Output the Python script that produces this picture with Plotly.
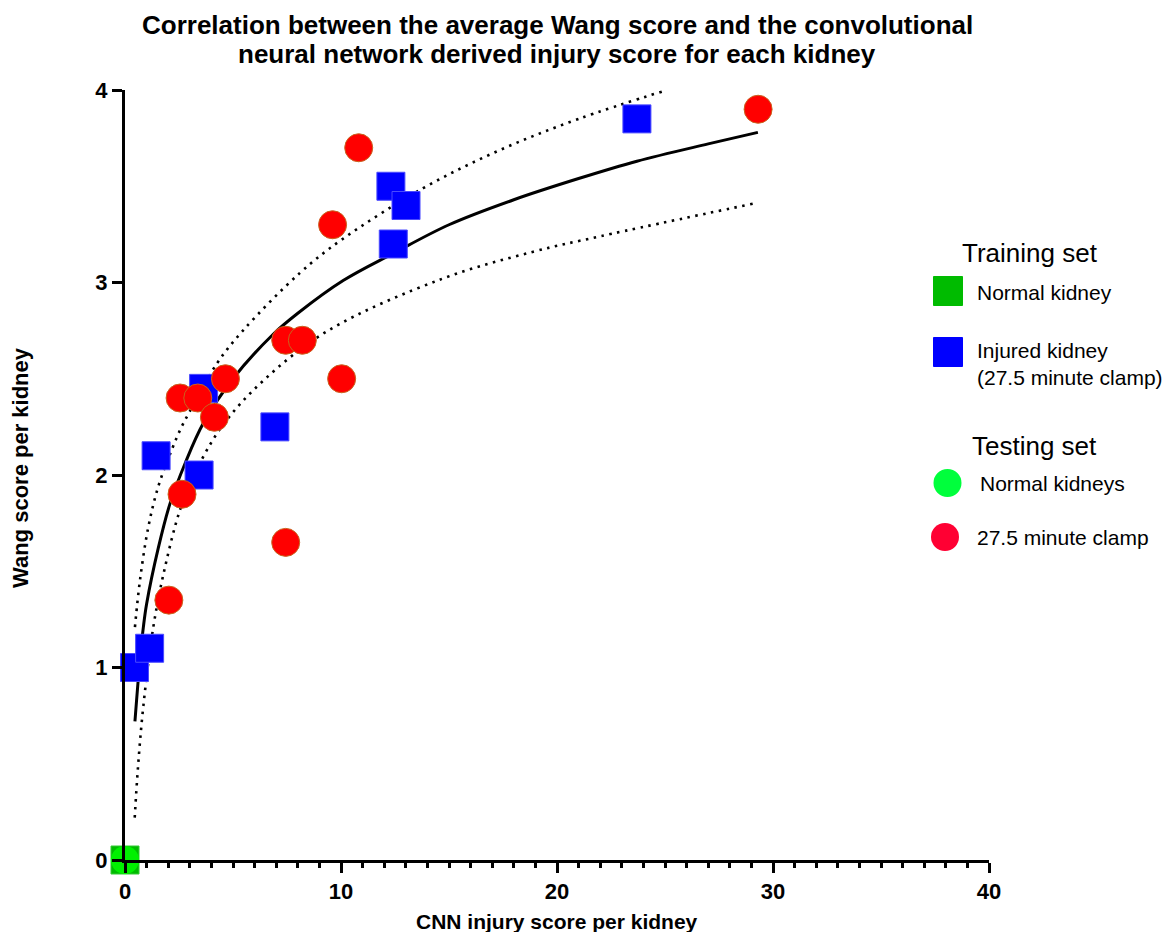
import plotly.graph_objects as go

# ---------------- data ----------------
train_normal_x = [0.0]
train_normal_y = [0.0]

train_injured_x = [0.44, 1.14, 1.44, 3.43, 3.64, 6.94, 12.31, 13.01, 12.42, 23.70]
train_injured_y = [1.00, 1.10, 2.10, 2.00, 2.45, 2.25, 3.50, 3.40, 3.20, 3.85]

test_normal_x = [0.0]
test_normal_y = [0.0]

test_clamp_x = [2.03, 2.64, 2.55, 3.37, 4.14, 4.65, 7.44, 8.21, 10.03, 7.44, 9.61, 10.82, 29.31]
test_clamp_y = [1.35, 1.90, 2.40, 2.40, 2.30, 2.50, 2.70, 2.70, 2.50, 1.65, 3.30, 3.70, 3.90]

# fitted curve and its confidence band
fit_x = [0.46, 0.7, 0.85, 1.0, 1.54, 2.08, 2.78, 3.63, 5.0, 6.85, 8.0, 10.1, 12.4, 15.0, 18.0, 21.0, 23.7, 27.0, 29.3]
fit_y = [0.72, 1.05, 1.21, 1.33, 1.62, 1.85, 2.06, 2.27, 2.50, 2.73, 2.84, 3.01, 3.15, 3.30, 3.43, 3.54, 3.63, 3.72, 3.78]

upper_x = [0.46, 0.69, 1.08, 1.54, 2.16, 2.62, 3.0, 4.26, 5.46, 8.1, 10.0, 13.8, 17.4, 21.0, 25.1]
upper_y = [1.21, 1.45, 1.73, 1.94, 2.13, 2.25, 2.33, 2.58, 2.75, 3.05, 3.22, 3.49, 3.69, 3.85, 4.00]

lower_x = [0.45, 0.6, 0.85, 1.31, 1.85, 2.55, 3.24, 4.47, 6.4, 9.4, 14.7, 18.9, 22.0, 29.1]
lower_y = [0.22, 0.48, 0.80, 1.21, 1.52, 1.82, 2.01, 2.25, 2.49, 2.75, 3.02, 3.16, 3.24, 3.41]

x_ticks = [0, 10, 20, 30, 40]
y_ticks = [0, 1, 2, 3, 4]

title_lines = ["Correlation between the average Wang score and the convolutional",
               "neural network derived injury score for each kidney"]
x_title = "CNN injury score per kidney"
y_title = "Wang score per kidney"

legend_groups = ["Training set", "Testing set"]
legend_labels = ["Normal kidney", "Injured kidney<br>(27.5 minute clamp)",
                 "Normal kidneys", "27.5 minute clamp"]

# ---------------- styling ----------------
FONT = "Liberation Sans, Arial, sans-serif"
C_TRAIN_NORMAL = "#00BB00"
C_TRAIN_INJ = "#0000FF"
C_TEST_NORMAL = "#00FF3C"
C_TEST_CLAMP = "#FF0000"
C_LEG_CLAMP = "#FF0033"

# the page adds an 8px body margin, so the figure is a little smaller
OFF = 8
W, H = 1160, 924
SX0, SX1, SY0, SY1 = 125, 989, 90, 860      # plot area in screen pixels
L, T = SX0 - OFF, SY0 - OFF
PW, PH = SX1 - SX0, SY1 - SY0
R, B = W - L - PW, H - T - PH


def px(xp):
    return (xp - SX0) / PW


def py(yp):
    return (SY1 - yp) / PH


fig = go.Figure()

dot = "2.5px,5.5px"
fig.add_trace(go.Scatter(x=upper_x, y=upper_y, mode="lines", line=dict(color="black", width=2.6, dash=dot, shape="spline"),
                         hoverinfo="skip", showlegend=False))
fig.add_trace(go.Scatter(x=lower_x, y=lower_y, mode="lines", line=dict(color="black", width=2.6, dash=dot, shape="spline"),
                         hoverinfo="skip", showlegend=False))
fig.add_trace(go.Scatter(x=fit_x, y=fit_y, mode="lines", line=dict(color="black", width=3, shape="spline"),
                         hoverinfo="skip", showlegend=False))

fig.add_trace(go.Scatter(x=train_normal_x, y=train_normal_y, mode="markers", name="Normal kidney",
                         marker=dict(symbol="square", size=28, color=C_TRAIN_NORMAL, line=dict(width=1, color="#33cc33")),
                         showlegend=False, cliponaxis=False))
fig.add_trace(go.Scatter(x=train_injured_x, y=train_injured_y, mode="markers", name="Injured kidney",
                         marker=dict(symbol="square", size=28, color=C_TRAIN_INJ, line=dict(width=1, color="#4a4aff")),
                         showlegend=False, cliponaxis=False))
fig.add_trace(go.Scatter(x=test_normal_x, y=test_normal_y, mode="markers", name="Normal kidneys",
                         marker=dict(symbol="circle", size=28, color="#00F000", line=dict(width=0)),
                         showlegend=False, cliponaxis=False))
fig.add_trace(go.Scatter(x=test_clamp_x, y=test_clamp_y, mode="markers", name="27.5 minute clamp",
                         marker=dict(symbol="circle", size=28, color=C_TEST_CLAMP, line=dict(width=1, color="#c8641e")),
                         showlegend=False, cliponaxis=False))

# ---------------- custom legend (shapes + text) ----------------
shapes = []
annotations = []


def rect(cx, cy, s, color):
    shapes.append(dict(type="rect", xref="paper", yref="paper",
                       x0=px(cx - s / 2), x1=px(cx + s / 2), y0=py(cy + s / 2), y1=py(cy - s / 2),
                       fillcolor=color, line=dict(width=1, color=color)))


def circ(cx, cy, s, color):
    shapes.append(dict(type="circle", xref="paper", yref="paper",
                       x0=px(cx - s / 2), x1=px(cx + s / 2), y0=py(cy + s / 2), y1=py(cy - s / 2),
                       fillcolor=color, line=dict(width=0)))


def text(x, y, t, size, anchor="left", bold=False, angle=0):
    annotations.append(dict(xref="paper", yref="paper", x=px(x), y=py(y), text=("<b>%s</b>" % t) if bold else t,
                            showarrow=False, xanchor=anchor, yanchor="middle", textangle=angle, align="left",
                            font=dict(family=FONT, size=size, color="black")))


text(960, 253, legend_groups[0], 26)
rect(948, 291, 29, C_TRAIN_NORMAL)
text(975, 292, legend_labels[0], 21)
rect(948, 352, 29, C_TRAIN_INJ)
text(975, 364, legend_labels[1], 21)
text(970, 446, legend_groups[1], 26)
circ(947.5, 483, 28, C_TEST_NORMAL)
text(978, 483, legend_labels[2], 21)
circ(945, 537, 28, C_LEG_CLAMP)
text(975, 537, legend_labels[3], 21)

# title (two lines placed separately)
text(557, 25, title_lines[0], 26, anchor="center", bold=True)
text(557, 54, title_lines[1], 26, anchor="center", bold=True)

# axis titles
text(557, 921, x_title, 21, anchor="center", bold=True)
text(20, 468, y_title, 22, anchor="center", bold=True, angle=-90)

fig.update_layout(
    width=W, height=H,
    margin=dict(l=L, r=R, t=T, b=B),
    paper_bgcolor="white", plot_bgcolor="white",
    font=dict(family=FONT, color="black"),
    shapes=shapes, annotations=annotations,
    showlegend=False,
)

fig.update_xaxes(range=[0, 40], tickvals=x_ticks, ticktext=["<b>%d</b>" % v for v in x_ticks],
                 showline=True, linewidth=3, linecolor="black", ticks="outside", ticklen=10, tickwidth=3,
                 tickcolor="black", showgrid=False, zeroline=False,
                 tickfont=dict(family=FONT, size=22, color="black"),
                 minor=dict(dtick=1, tick0=0, ticks="outside", ticklen=5, tickwidth=3, tickcolor="black", showgrid=False))
fig.update_yaxes(range=[0, 4], tickvals=y_ticks, ticktext=["<b>%d</b>" % v for v in y_ticks],
                 showline=True, linewidth=3, linecolor="black", ticks="outside", ticklen=10, tickwidth=3,
                 tickcolor="black", showgrid=False, zeroline=False,
                 tickfont=dict(family=FONT, size=22, color="black"))

fig.write_html("out.html")
